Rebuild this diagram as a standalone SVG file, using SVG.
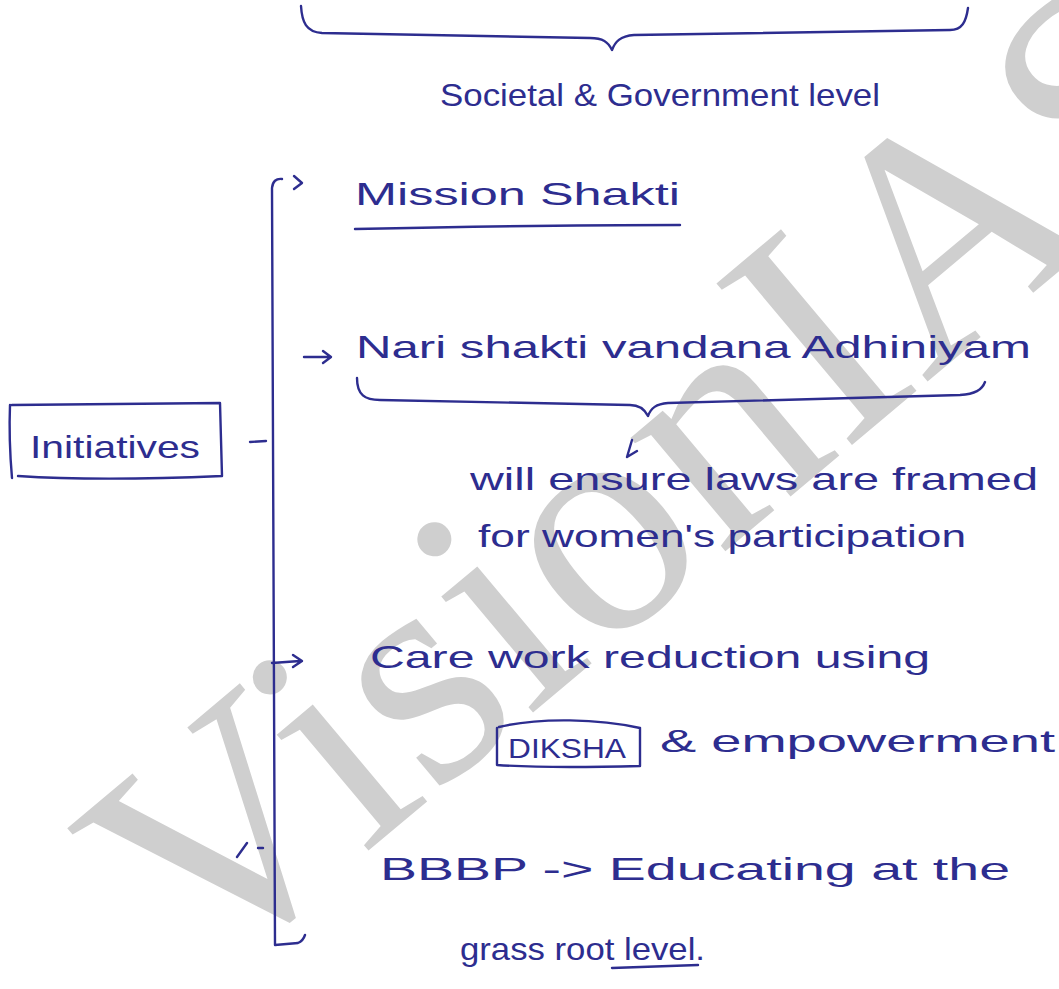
<svg xmlns="http://www.w3.org/2000/svg" width="1059" height="989" viewBox="0 0 1059 989">
<style>
.ink{fill:none;stroke:#2d2d8f;stroke-width:2.4;stroke-linecap:round;stroke-linejoin:round}
.t{font-family:"Liberation Sans",Arial,sans-serif;font-size:32px;fill:#2d2d8f}
.wm{font-family:"Liberation Serif","Times New Roman",serif;font-size:322px;fill:#cfcfcf}
</style>
<rect width="1059" height="989" fill="#ffffff"/>
<g id="watermark">
<text class="wm" transform="translate(200,992) rotate(-40)">VisionIAS</text>
</g>
<g id="societal-level">
<path class="ink" d="M301,6 C302,22 306,32 322,33 L590,38 C603,38 608,42 612,50 C615,42 620,36 634,35 L950,30 C962,30 966,22 968,8"/>
<text class="t" x="440" y="106" textLength="440" lengthAdjust="spacingAndGlyphs">Societal &amp; Government level</text>
</g>
<g id="initiatives">
<path class="ink" d="M10,405 C9,430 10,455 12,478 M12,405 L220,403 L222,476 M18,476 C80,480 150,479 222,476"/>
<text class="t" x="30" y="458" textLength="170" lengthAdjust="spacingAndGlyphs">Initiatives</text>
</g>
<g id="mission-shakti">
<text class="t" x="355" y="205" textLength="325" lengthAdjust="spacingAndGlyphs">Mission Shakti</text>
<path class="ink" d="M355,229 C450,227 580,225 680,225"/>
</g>
<g id="nari-shakti">
<text class="t" x="356" y="358" textLength="675" lengthAdjust="spacingAndGlyphs">Nari shakti vandana Adhiniyam</text>
<path class="ink" d="M357,378 C357,395 365,400 380,400 L630,405 C640,405 645,410 648,416 C651,408 656,404 668,403 L960,395 C975,394 982,390 985,382"/>
<path class="ink" d="M632,440 L627,457 L637,451"/>
<text class="t" x="470" y="490" textLength="568" lengthAdjust="spacingAndGlyphs">will ensure laws are framed</text>
<text class="t" x="478" y="547" textLength="488" lengthAdjust="spacingAndGlyphs">for women's participation</text>
</g>
<g id="care-work">
<text class="t" x="370" y="668" textLength="560" lengthAdjust="spacingAndGlyphs">Care work reduction using</text>
<path class="ink" d="M497,728 L497,765 C540,768 600,767 640,766 L640,728 M499,727 C540,717 600,719 640,728"/>
<text class="t" x="508" y="758" textLength="118" lengthAdjust="spacingAndGlyphs" style="font-size:28px">DIKSHA</text>
<text class="t" x="660" y="752" textLength="395" lengthAdjust="spacingAndGlyphs">&amp; empowerment</text>
</g>
<g id="bbbp">
<text class="t" x="380" y="880" textLength="630" lengthAdjust="spacingAndGlyphs">BBBP -&gt; Educating at the</text>
<text class="t" x="460" y="960" textLength="245" lengthAdjust="spacingAndGlyphs">grass root level.</text>
<path class="ink" d="M612,968 C640,967 670,966 698,965"/>
</g>
<g id="connectors">
<path class="ink" d="M250,442 L266,441"/>
<path class="ink" d="M282,179 Q273,178 272,188 L275,945 L298,943 Q303,941 305,935"/>
<path class="ink" d="M294,176 L302,183 L294,189"/>
<path class="ink" d="M304,357 L330,357 M323,351 L331,357 L323,363"/>
<path class="ink" d="M272,663 L300,661 M293,655 L302,661 L293,667"/>
<path class="ink" d="M237,857 L247,843 M258,848 L263,848"/>
</g>
</svg>
